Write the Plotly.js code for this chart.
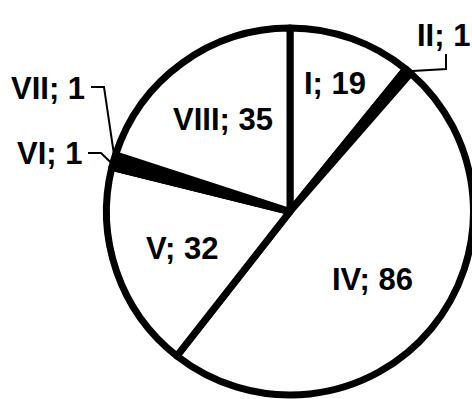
<!DOCTYPE html>
<html>
<head>
<meta charset="utf-8">
<script src="https://cdn.plot.ly/plotly-3.0.1.min.js"></script>
<style>
  html, body { margin: 0; padding: 0; overflow: hidden; background: #fff; }
  #chart { width: 500px; height: 399px; }
</style>
</head>
<body>
<div id="chart"></div>
<script>
// segments, clockwise from 12 o'clock
var labels = ['I', 'II', 'IV', 'V', 'VI', 'VII', 'VIII'];
var values = [19, 1, 86, 32, 1, 1, 35];
var fills  = ['#ffffff', '#000000', '#ffffff', '#ffffff', '#000000', '#000000', '#ffffff'];

// label placement: inside ones by radius fraction along the slice middle,
// outside ones by text centre + elbow of the leader line (pixels)
var insideRadius = { 'I': 0.74, 'IV': 0.58, 'V': 0.62, 'VIII': 0.62 };
var outsideText = { 'II': [443, 35], 'VII': [48, 88], 'VI': [49, 153] };
var outsideLeader = { 'II': [[446, 54], [446, 69]], 'VII': [[91, 87], [104, 87]], 'VI': [[88, 153], [101, 153]] };

var W = 500, H = 399;
var cx = 290, cy = 211.5, r = 183.5;
var font = { family: 'Liberation Sans, Arial, sans-serif', size: 31, weight: 'bold', color: '#000' };

var data = [{
    type: 'pie',
    labels: labels,
    values: values,
    sort: false,
    direction: 'clockwise',
    rotation: 0,
    textinfo: 'none',
    marker: { colors: fills, line: { color: '#000', width: 7 } },
    hoverinfo: 'none',
    domain: {
        x: [(cx - r) / W, (cx + r) / W],
        y: [(H - cy - r) / H, (H - cy + r) / H]
    }
}];

function px2paper(p) { return [p[0] / W, (H - p[1]) / H]; }

function label(p, text) {
    return {
        xref: 'paper', yref: 'paper', x: p[0], y: p[1],
        xanchor: 'center', yanchor: 'middle',
        text: text, showarrow: false, font: font
    };
}

var total = values.reduce(function (a, b) { return a + b; }, 0);
var annotations = [];
var shapes = [];
var cum = 0;
labels.forEach(function (l, i) {
    var mid = (cum + values[i] / 2) / total * 2 * Math.PI;
    cum += values[i];
    var text = l + '; ' + values[i];
    if (insideRadius[l] !== undefined) {
        var rr = r * insideRadius[l];
        annotations.push(label(px2paper([cx + rr * Math.sin(mid), cy - rr * Math.cos(mid)]), text));
        return;
    }
    annotations.push(label(px2paper(outsideText[l]), text));
    var edge = px2paper([cx + r * Math.sin(mid), cy - r * Math.cos(mid)]);
    var a = px2paper(outsideLeader[l][0]), b = px2paper(outsideLeader[l][1]);
    shapes.push({
        type: 'path', xref: 'paper', yref: 'paper',
        path: 'M' + a[0] + ',' + a[1] + ' L' + b[0] + ',' + b[1] + ' L' + edge[0] + ',' + edge[1],
        line: { color: '#000', width: 2 }
    });
});

var layout = {
    width: W, height: H,
    margin: { l: 0, r: 0, t: 0, b: 0 },
    showlegend: false,
    paper_bgcolor: '#fff',
    annotations: annotations,
    shapes: shapes
};

Plotly.newPlot('chart', data, layout, { staticPlot: true });
</script>
</body>
</html>
